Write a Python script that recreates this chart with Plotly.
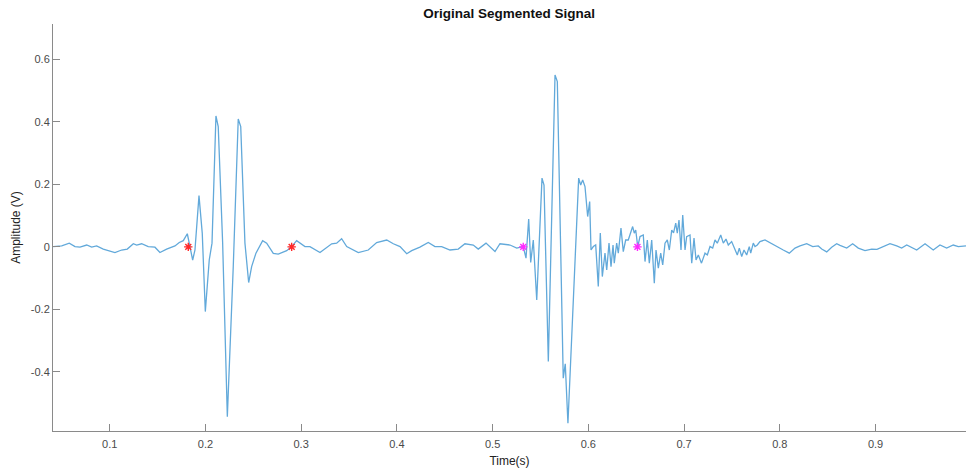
import plotly.graph_objects as go

# Signal vertices (time in s, amplitude in V)
time_s = [0.0411,0.0499,0.0578,0.0638,0.0690,0.0760,0.0812,0.0864,0.0933,0.1003,
          0.1055,0.1125,0.1184,0.1247,0.1282,0.1334,0.1403,0.1473,0.1525,0.1595,
          0.1682,0.1727,0.1769,0.1811,0.1867,0.1891,0.1933,0.1967,0.1999,0.2040,
          0.2069,0.2110,0.2134,0.2180,0.2229,0.2291,0.2343,0.2369,0.2413,0.2452,
          0.2483,0.2528,0.2598,0.2640,0.2709,0.2761,0.2849,0.2901,0.2953,0.3040,
          0.3092,0.3197,0.3319,0.3371,0.3423,0.3476,0.3597,0.3701,0.3789,0.3894,
          0.3963,0.4033,0.4103,0.4155,0.4241,0.4328,0.4398,0.4468,0.4555,0.4641,
          0.4711,0.4798,0.4850,0.4931,0.5025,0.5077,0.5182,0.5252,0.5286,0.5320,
          0.5349,0.5377,0.5398,0.5425,0.5461,0.5516,0.5537,0.5582,0.5652,0.5676,
          0.5738,0.5759,0.5787,0.5843,0.5899,0.5920,0.5941,
          0.5965,0.5993,0.6014,0.6028,0.6052,0.6077,0.6104,0.6125,0.6146,0.6174,
          0.6192,0.6216,0.6237,0.6258,0.6271,0.6296,0.6313,0.6341,0.6365,0.6390,
          0.6417,0.6446,0.6463,0.6480,0.6495,0.6516,0.6540,0.6574,0.6592,0.6616,
          0.6637,0.6662,0.6689,0.6707,0.6731,0.6756,0.6777,0.6801,0.6825,0.6846,
          0.6871,0.6890,0.6913,0.6929,0.6947,0.6968,0.6986,0.7010,0.7027,0.7062,
          0.7080,0.7104,0.7125,0.7149,0.7182,0.7219,0.7243,0.7271,0.7299,0.7323,
          0.7347,0.7383,0.7410,0.7438,0.7462,0.7497,0.7532,0.7556,0.7577,0.7602,
          0.7626,0.7654,0.7681,0.7696,0.7723,0.7741,0.7765,0.7793,
          0.7845,0.7897,0.7967,0.8036,
          0.8099,0.8159,0.8211,0.8281,0.8344,0.8402,0.8438,0.8490,0.8542,0.8594,
          0.8629,0.8699,0.8761,0.8820,0.8890,0.8960,0.9015,0.9081,0.9151,0.9221,
          0.9273,0.9326,0.9394,0.9430,0.9517,0.9603,0.9673,0.9743,0.9812,0.9865,
          0.9945]
amplitude_v = [0.001,0.003,0.012,0.001,-0.001,0.006,-0.001,0.003,-0.007,-0.012,
               -0.018,-0.010,-0.007,0.010,0.006,0.010,0.001,-0.001,-0.018,-0.007,
               0.003,0.014,0.020,0.042,-0.042,-0.010,0.164,0.044,-0.207,-0.042,
               0.012,0.419,0.385,0.013,-0.543,-0.063,0.409,0.385,0.012,-0.114,
               -0.063,-0.020,0.020,0.012,-0.021,-0.023,-0.012,0.001,0.020,0.001,
               0.001,-0.018,0.010,0.012,0.026,0.001,-0.018,-0.010,0.014,0.022,
               0.010,0.001,-0.022,-0.012,-0.001,0.014,0.001,0.001,-0.010,-0.007,
               0.010,0.006,-0.007,0.012,-0.015,0.010,0.006,-0.004,-0.001,0.001,
               -0.036,0.089,-0.050,0.022,-0.170,0.220,0.198,-0.367,0.550,0.529,
               -0.420,-0.374,-0.564,-0.148,0.220,0.198,0.214,
               0.193,0.097,0.145,-0.010,0.001,0.006,-0.127,0.044,-0.095,-0.020,
               -0.074,0.012,-0.063,0.006,-0.052,0.012,-0.020,0.060,-0.015,0.022,
               0.022,0.049,0.065,0.044,0.054,0.001,0.033,0.038,-0.047,0.022,
               -0.052,0.022,-0.116,-0.010,-0.068,-0.020,-0.058,0.012,0.022,-0.010,
               0.054,0.045,0.076,0.044,0.086,-0.010,0.102,-0.010,0.033,0.038,
               -0.052,0.028,-0.042,-0.026,-0.052,-0.020,-0.026,0.001,-0.004,0.022,
               0.012,0.038,0.012,0.025,0.006,0.017,-0.010,-0.026,-0.004,-0.031,
               -0.010,-0.026,0.001,-0.020,0.012,0.001,0.006,0.017,
               0.022,0.014,0.003,-0.010,
               -0.020,-0.004,0.003,0.010,0.001,0.003,-0.007,-0.016,-0.001,0.010,
               0.005,-0.004,0.010,-0.004,-0.012,-0.007,-0.008,0.001,0.010,0.003,
               -0.004,0.006,-0.004,-0.010,0.010,-0.010,0.006,-0.004,0.006,0.001,
               0.003]
assert len(time_s) == len(amplitude_v), (len(time_s), len(amplitude_v))

# Segment boundary markers
s1_time = [0.1821, 0.2901]
s1_amp = [0.0, 0.0]
s2_time = [0.5320, 0.6513]
s2_amp = [0.0, 0.0]

x_ticks = [0.1, 0.2, 0.3, 0.4, 0.5, 0.6, 0.7, 0.8, 0.9]
x_labels = ["0.1", "0.2", "0.3", "0.4", "0.5", "0.6", "0.7", "0.8", "0.9"]
y_ticks = [-0.4, -0.2, 0, 0.2, 0.4, 0.6]
y_labels = ["-0.4", "-0.2", "0", "0.2", "0.4", "0.6"]

FONT = "Liberation Sans, Arial, Helvetica, sans-serif"
AX_LINE = "#8a8a8a"
TXT = "#4a4a4a"

fig = go.Figure()
fig.add_trace(go.Scatter(x=time_s, y=amplitude_v, mode="lines",
                         line=dict(color="#62a9da", width=1.3), showlegend=False))
fig.add_trace(go.Scatter(x=s1_time, y=s1_amp, mode="markers",
                         marker=dict(symbol="asterisk-open", size=7, color="#ff2a2a",
                                     line=dict(color="#ff2a2a", width=1.4)),
                         showlegend=False))
fig.add_trace(go.Scatter(x=s2_time, y=s2_amp, mode="markers",
                         marker=dict(symbol="asterisk-open", size=7, color="#ff2aff",
                                     line=dict(color="#ff2aff", width=1.4)),
                         showlegend=False))

fig.update_layout(
    width=966, height=472,
    margin=dict(l=53, r=0, t=24, b=41),
    paper_bgcolor="white", plot_bgcolor="white",
    font=dict(family=FONT, size=11, color=TXT),
    title=dict(text="<b>Original Segmented Signal</b>", x=0.527, xanchor="center",
               y=1 - 13 / 472, yanchor="middle", yref="container",
               font=dict(family=FONT, size=13.5, color="#111111")),
)
fig.update_xaxes(range=[0.0408, 0.9945], showgrid=False, zeroline=False,
                 showline=True, linecolor=AX_LINE, linewidth=1,
                 ticks="inside", ticklen=7, tickcolor=AX_LINE, tickwidth=1,
                 tickvals=x_ticks, ticktext=x_labels, ticklabelstandoff=3,
                 tickfont=dict(size=11, color=TXT),
                 title=dict(text="Time(s)", standoff=7,
                            font=dict(size=12, color="#222222")))
fig.update_yaxes(range=[-0.589, 0.713], showgrid=False, zeroline=False,
                 showline=True, linecolor=AX_LINE, linewidth=1,
                 ticks="inside", ticklen=7, tickcolor=AX_LINE, tickwidth=1,
                 tickvals=y_ticks, ticktext=y_labels,
                 tickfont=dict(size=11, color=TXT),
                 title=dict(text="Amplitude (V)", standoff=7,
                            font=dict(size=12, color="#222222")))

fig.write_html("out.html")
